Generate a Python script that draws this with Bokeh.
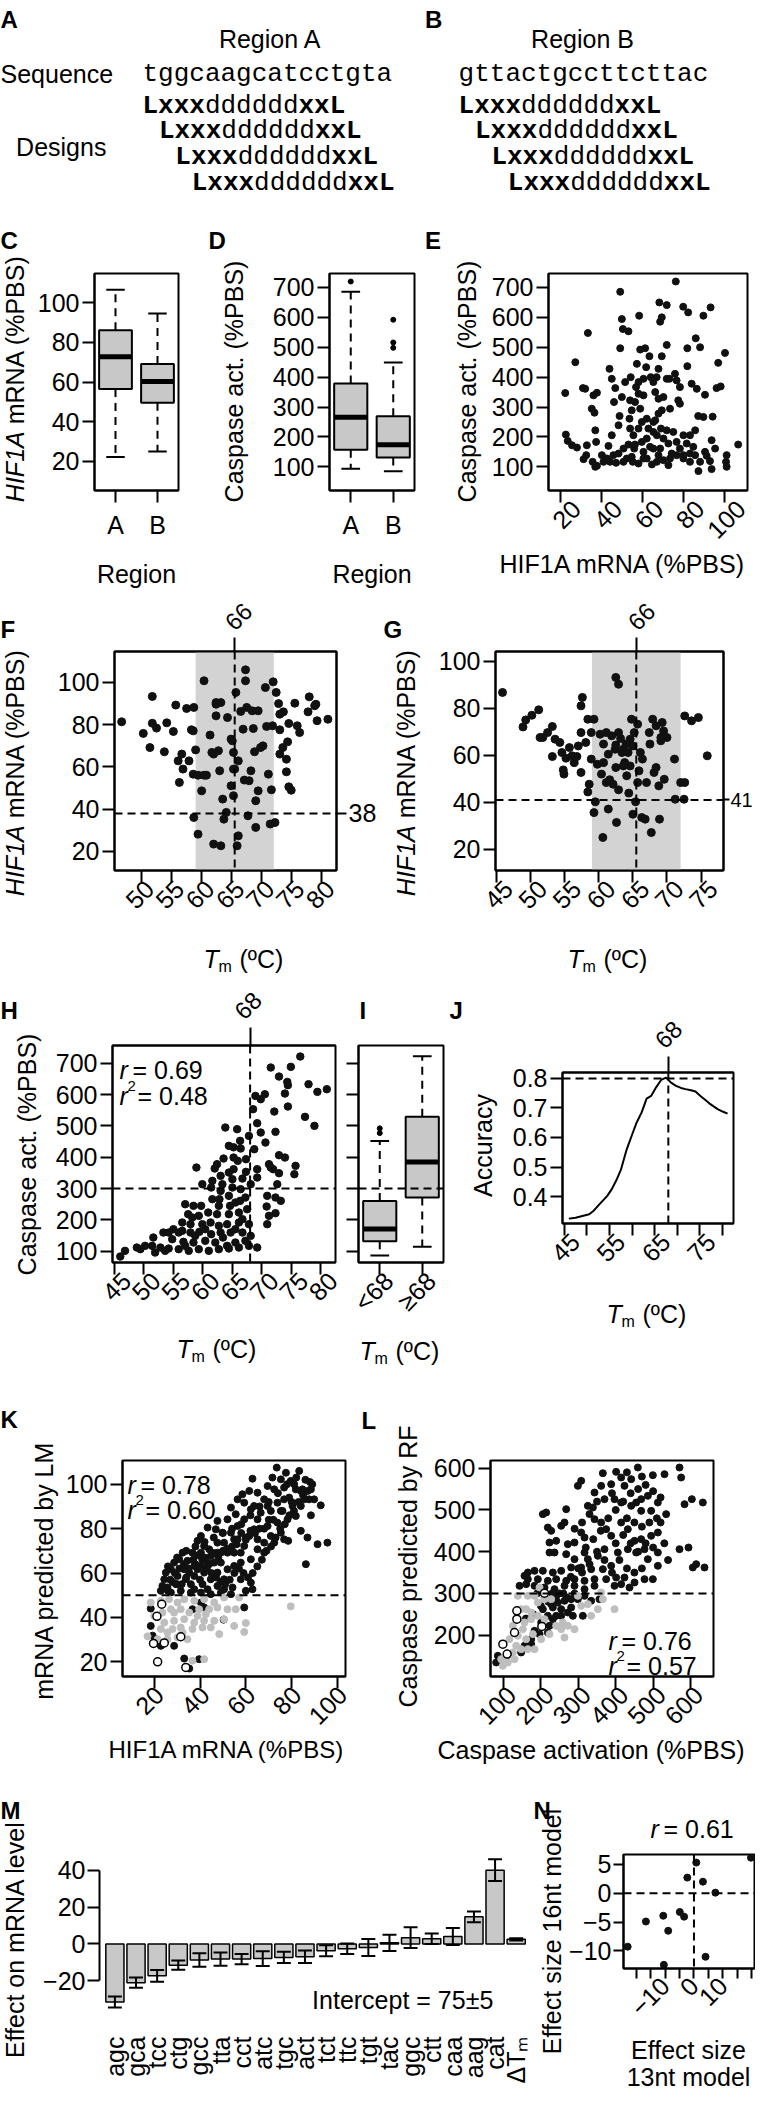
import math
from bokeh.plotting import figure
from bokeh.models import Range1d, FixedTicker, LinearAxis, Label, Span, BoxAnnotation, Title
from bokeh.layouts import column, row
from bokeh.core.properties import value
from bokeh.embed import file_html
from bokeh.resources import INLINE

SANS = "Liberation Sans"
MONO = "Liberation Mono"
FS = "25px"
BOXC = "#c8c8c8"
GRAYPT = "#bebebe"
BAND = "#d3d3d3"
PI = math.pi

# ---------------- data ----------------
seq_A = "tggcaagcatcctgta"
seq_B = "gttactgccttcttac"
design_parts = ["Lxxx", "dddddd", "xxL"]

region_cats = ["A", "B"]
C_q1 = [56.5, 49.6]; C_med = [72.7, 60.2]; C_q3 = [86.1, 69.0]
C_lo = [22.2, 25.0]; C_hi = [106.4, 94.5]; C_out = [[], []]
D_q1 = [156.9, 131.2]; D_med = [266.2, 173.6]; D_q3 = [378.8, 269.5]
D_lo = [93.3, 85.5]; D_hi = [685.5, 449.0]; D_out = [[720], [592, 516, 498]]

I_cats = ["<68", "≥68"]
I_q1 = [132, 271]; I_med = [171, 385]; I_q3 = [260, 529]
I_lo = [86, 114]; I_hi = [452, 722]; I_out = [[477, 492], []]

E_pts = [(22.4,346.7),(22.7,207.8),(23.6,186.7),(25.7,172),(28.1,164.4),(27.3,450),(31,363.3),(32.1,361),(33.4,547.8),(32.9,172),(32.6,139),(31.3,125.6),(35.7,116.7),(37.8,103.4),(35.3,294.4),(36.6,281),(36.1,339),(37.8,347.8),(37,222),(37.4,183.4),(40.2,139),(43.9,427.8),(45,394.4),(46.7,363.3),(43.4,170),(45,205.6),(45.8,139),(44.2,116.7),(47.1,113.4),(46.1,316.7),(49.1,685.6),(49.9,594.4),(50.4,561),(53.1,553.4),(49.1,496.7),(49.9,333.4),(48.8,270),(48.3,239),(51.5,383.4),(50.7,161),(52.3,127.8),(54.2,400),(54.7,289),(53.6,261),(53.9,228),(55.5,205.6),(55.9,161),(55.2,116.7),(58,111),(57.2,444.4),(58.3,605.6),(58.8,492.2),(61.2,496.7),(63.3,470),(60.4,394.4),(61.7,433.4),(56.8,366.7),(58,344.4),(56.3,316.7),(58.8,294.4),(60.4,339),(58,228),(59.6,183.4),(60.4,150),(62,127.8),(62.8,228),(63.9,400),(65.2,250),(66.8,400),(67.7,427.8),(68.1,650),(68.5,585.6),(69.3,600),(71.7,641),(69.3,470),(71.7,507.8),(66.1,350),(67.7,327.8),(69.3,289),(70.1,333.4),(71.7,394.4),(73,394.4),(66.1,255.6),(66.9,205.6),(68.9,228),(65.2,161),(67.7,139),(70.1,122.3),(72.5,178),(73.3,294.4),(71.7,222),(74.9,216.7),(75.7,411.1),(76.5,389),(78.1,366.7),(77.3,322.3),(78.1,311.1),(76.1,720),(79.7,635.6),(82.1,616.7),(89.5,605.6),(93,633.4),(81.7,496.7),(85.8,530),(87.9,500),(81.7,436.7),(83.8,378),(86.3,361),(90.3,341),(96.7,447.8),(100,481),(95.9,363.3),(97.9,369),(87,270),(89.5,266.7),(94,267.8),(85.5,222),(83,205.6),(79.8,205.6),(81.4,178),(78.1,161),(76.5,139),(79.8,127.8),(83,116.7),(85.5,139),(87.9,116.7),(87.1,85.6),(90.3,150),(92.7,119),(93.5,189),(95.2,161),(93.5,92.3),(100.8,139),(100.5,116.7),(100.8,100),(106.4,174.5),(74.1,144.5),(72.5,105.6),(66.9,116.7),(64.5,108),(48.3,144.5),(50.7,116.7),(42.6,127.8),(41,116.7),(37,100),(53.1,174.5),(56.3,174.5),(62,194.5),(63.6,166.7),(70.1,194.5),(76.5,183.4),(79.8,139),(84.6,166.7),(68.5,161),(60.4,127.8),(54.7,133.4),(73.3,127.8),(83,144.5),(91.1,136.7),(67.7,278),(65.2,216.7),(62,261),(59.6,250),(53.9,322.3),(58,383.4),(65.2,383.4)]

F_pts = [(46.7,81.4),(50.3,75.9),(51.4,69.2),(51.8,93.4),(51.8,80.7),(52.5,78.4),(53.8,67.2),(54.2,80.9),(55.3,76.8),(55.7,89.3),(56.1,62.9),(56.3,52.7),(56.7,66.1),(56.9,59),(57.5,87.7),(57.9,62.9),(58.3,77.6),(58.6,77.1),(58.7,88.2),(58.6,56.6),(59,68.1),(59.4,56.1),(58.7,36.1),(59.4,28.2),(60,48.7),(60.4,56.1),(60.4,100.8),(60.8,56.1),(61.4,75.1),(61.7,66.9),(62,66.1),(62,23.5),(62.4,84.2),(62.4,90.5),(62.8,67.7),(63,58.2),(63.2,22.7),(63.5,44.8),(63.2,90.5),(63.7,35.3),(64.1,38.5),(64.3,83.4),(64.9,73.2),(64.9,51.1),(65.1,72.4),(65.3,66.9),(65.3,59),(65.3,46.4),(65.5,59),(65.7,95.3),(65.9,22.7),(66.1,62.9),(66.1,27.4),(66.5,86.3),(66.9,77.9),(67.1,53.8),(67.3,106),(67.3,100.8),(67.5,88.2),(67.7,36.9),(67.9,53.5),(68.2,58.2),(68.4,86.6),(68.6,78.2),(68.8,67.2),(69,44),(69,31.4),(69.4,86.6),(69.4,48.7),(69.8,69.2),(70.2,70),(70.6,97.6),(70.8,79.2),(71.1,56.6),(71.4,33),(71.6,49.2),(71.8,79.5),(71.9,100.3),(72.2,33.7),(72.4,95.3),(72.8,90),(73,77.6),(73,66.1),(73.5,69.2),(74.1,63.7),(74.3,71.9),(74.1,57.7),(74.5,50.6),(74.9,49),(74.5,80.6),(75.5,90.2),(75.9,79.5),(76.3,76.3),(77.7,86.1),(77.9,93.2),(78.8,89),(79,89.7),(79.2,81.9),(81,82.6),(73.6,86.1),(73,85),(62.4,89.7)]

G_pts = [(45.9,86.8),(48.9,72.1),(49.3,75.1),(50.2,77.1),(51.2,79.4),(51.4,67.6),(51.8,67.6),(52.5,69.7),(53.2,72.3),(53.2,59.5),(53.6,66.9),(54.3,65.5),(54.6,61.2),(54.8,53.8),(54.9,52),(55.2,58.8),(55.7,63.3),(56.1,59.8),(56.4,56.9),(56.8,59.5),(57,64),(57.4,81.1),(57.6,84.7),(57.4,69.7),(57.4,52.7),(58.4,44.4),(58.1,65.5),(58.4,75.4),(58.6,47.7),(58.9,69.7),(58.9,58.4),(59.3,75.4),(59.3,35.6),(59.5,40.2),(59.8,56.2),(60.2,69),(60.4,52),(60.6,25),(60.7,64.8),(61.1,48.4),(61.4,37.1),(61.4,60.5),(61.6,49.6),(61.9,68.3),(62.1,47.7),(62.4,62.6),(62.5,93.2),(62.5,54.8),(62.9,90.3),(62.9,45.3),(62.6,31.4),(63.2,67.2),(63.4,61.2),(63.6,62.6),(63.8,56.9),(64.1,51.3),(64.3,61.2),(64.4,43.9),(64.6,66.9),(64.8,75.4),(65,64),(65,34.9),(65.2,69.7),(65.4,40.2),(65.7,73.3),(65.7,48.4),(65.9,53.4),(66.1,61.2),(66.3,33.5),(66.4,58.4),(66.8,32.8),(67,48.4),(67.4,69.7),(67.5,64.8),(67.7,27.1),(67.9,75.4),(68.1,52.7),(68.4,54.8),(68.4,72.6),(68.8,47),(68.9,32.8),(69.1,67.6),(69.3,74),(69.5,70.4),(69.6,49.8),(70,67.6),(69.1,66.2),(71.1,58.4),(71.2,41.3),(72,48.4),(72.5,41.3),(72.6,48.4),(72.6,76.8),(73.6,74.7),(74.6,76.1),(75.9,59.8),(64,64.8),(62.5,64.4),(61.1,69.7),(62.9,69.7),(63.6,55.5),(64.6,55.5),(60.7,56.9)]

H_pts = [(76.5,721.3),(71.5,686.2),(74.9,688.3),(72.9,657.4),(74.3,640.4),(74.4,629.8),(77.9,633),(79.4,608.5),(81,617),(73.9,603.2),(68.9,595.7),(69.8,585.1),(70.5,601),(68.5,553.2),(74.4,561.7),(72.1,545.7),(77.3,528.7),(78.9,500),(69.2,508.5),(69.8,478.7),(72.3,480.9),(63.8,494.7),(65.8,489.4),(67.8,468),(66.3,452.1),(70.6,446.8),(64.4,436.2),(66.4,427.7),(68.7,425.5),(63.5,395.7),(65.2,398.9),(65.9,388.3),(67.3,393.6),(72.9,406.4),(73.9,398.9),(71.2,377.7),(71.9,361.7),(71.5,367),(75.7,372.4),(75.5,345.7),(72.9,348.9),(58.9,367),(62,363.8),(63,340.4),(64.4,351),(65.2,361.7),(66.7,331.9),(69.2,361.7),(69.2,335.1),(68.1,313.8),(59.9,313.8),(61.4,303.2),(63.3,313.8),(65,303.2),(66.4,297.9),(64.4,276.6),(61.6,266),(62.7,244.7),(65.5,255.3),(67.2,271.3),(72.6,313.8),(72.3,271.3),(73.2,260.6),(70.8,242.6),(71.2,212.8),(72.3,221.3),(70.9,186.2),(57,250),(58.4,244.7),(57.5,218.1),(59.3,212.8),(60.9,223.4),(62.4,218.1),(64.4,218.1),(66.1,223.4),(67.5,234),(56.5,191.5),(57.9,186.2),(59.9,186.2),(61.3,191.5),(62.7,180.9),(64.1,186.2),(66.1,191.5),(67.8,186.2),(55.9,159.6),(57.9,159.6),(59.4,161.7),(61.4,154.3),(63,159.6),(64.7,159.6),(66.7,159.6),(68.1,148.9),(53.3,159.6),(51.6,143.6),(54.8,138.3),(56.7,129.8),(58.4,127.7),(60.4,133),(62.1,127.7),(64.1,117),(65.5,127.7),(67.2,133),(69.2,111.7),(50.2,117),(51.4,117),(52.8,111.7),(54.2,108.5),(55.9,106.4),(57.6,101.1),(59.3,106.4),(61,101.1),(62.7,106.4),(64.4,108.5),(66.1,111.7),(48.8,111.7),(49.4,106.4),(46.8,101.1),(46,83),(51.9,95.7),(53.6,101.1),(57,117),(58.7,148.9),(60.4,170.2),(56.5,165),(55,170.2),(59.7,244.7),(62.8,266),(61.6,324.5),(58.2,207.4),(64.6,244.7),(66.3,260.6),(63,292.5),(65,329.8),(62.4,377.7),(70.9,276.6),(67.3,353.2),(65.2,431.5),(66.7,202.1),(65.5,170.2),(63.4,143.6),(67.8,117),(54.2,159.6)]

J_tm = [46,47.5,49,50.5,51.5,52.8,54.5,55.5,56.5,57.5,58.8,59.9,61,62.1,63.2,64.2,65.3,66.4,67.5,68.6,69.7,70.8,71.8,73,74,75.1,76.2,77.3,78.9,80,81.1]
J_acc = [0.325,0.328,0.334,0.34,0.352,0.374,0.402,0.425,0.455,0.49,0.56,0.606,0.651,0.685,0.732,0.741,0.77,0.795,0.803,0.786,0.775,0.768,0.764,0.76,0.756,0.741,0.727,0.713,0.696,0.688,0.681]

K_black = [(73.5,107.5),(77.5,105.2),(83.3,106),(71.6,103),(75.3,102.2),(62.9,102.5),(79.6,101.5),(69.5,99.2),(72.4,97.7),(76.7,98.5),(81.1,100),(84.7,97.7),(87.6,93.2),(89.8,93.2),(92.7,90.5),(95.6,73.7),(91.3,73),(86.2,64),(86.9,76),(84,79),(88.4,86),(80.4,90.2),(81.8,85.7),(78.2,84.2),(75.3,78.2),(78.5,74.5),(73.8,82.7),(70.9,88),(68,93.2),(65.1,96.2),(61.5,97),(58.5,95.5),(59.3,91.7),(56.4,93.2),(53.5,89.5),(55.6,86.5),(52,84.2),(47.6,83.5),(46.9,79.7),(49.8,78.2),(43.3,80.5),(40.4,76.7),(38.9,74.5),(41.8,72.2),(44,70.7),(40.4,69.2),(36.7,69.2),(32.4,69.2),(30.9,66.2),(34.5,65.5),(28.7,64.7),(27.3,61.7),(25.1,60.2),(24.4,57.2),(23.6,54.2),(25.8,53.5),(29.5,55),(33.8,57.2),(37.5,58.7),(41.8,60.2),(44.7,57.2),(47.6,54.2),(50.5,52.7),(54.2,53.5),(57.8,57.2),(62.2,55.7),(62.9,52.7),(60,52),(52,69.2),(54.9,69.2),(59.3,72.2),(61.5,76.7),(63.6,79.7),(65.1,84.2),(66.5,87.2),(69.5,81.2),(70.9,76.7),(68,73.7),(65.1,70.7),(62.2,66.2),(57.8,64.7),(54.9,63.2),(52,61.7),(49.1,64.7),(46.2,64.7),(44.7,67.7),(47.6,73.7),(50.5,73.7),(53.5,78.2),(56.4,81.2),(59.3,84.2),(62.2,88.7),(54.9,75.2),(57.8,69.2),(49.1,69.2),(37.5,63.2),(40.4,63.2),(33.1,61.7),(35.3,60.2),(30.2,58.7),(47.6,60.2),(50.5,57.2),(43.3,52.7),(37.5,52.7),(41.1,55),(38.9,61.7),(63.6,90.2),(69.5,90.2),(73.8,91.7),(76.7,93.2),(75.3,88),(78.9,94),(84,90.2),(85.5,93.2),(81.8,97.7),(88.4,97.7),(65.1,75.2),(68,69.2),(72.4,73.7),(76.7,75.2),(60,76),(56.4,75.2),(47.6,69.2),(43.3,64.7),(22.9,52),(27.3,51.2),(31.6,52),(36,51.2),(40.4,51.2),(44.7,50.5),(49.1,51.2),(53.5,50.5),(59.3,44.5),(50.3,39),(41.8,44.5),(40.4,46.7),(36.7,43.7),(18.5,44),(18.5,36.2),(19.3,31.8),(22.9,27.2),(28.7,27.2),(33.1,21.5),(35.3,17),(39.6,21.2),(27,57),(29,60),(31,62),(33,64),(35,62),(37,66),(39,68),(41,66),(43,62),(45,60),(47,58),(49,56),(51,55),(53,57),(55,60),(57,62),(59,60),(61,58),(63,60),(65,63),(67,66),(69,70),(71,72),(73,76),(75,80),(77,82),(79,86),(81,88),(83,92),(85,95),(87,97),(89,100),(86,102),(82,103),(78,100),(74,96),(70,92),(66,90),(62,86),(58,82),(54,80),(50,78),(46,76),(42,74),(38,72),(34,70),(30,67),(26,63),(28,56),(32,55),(36,55),(40,57),(44,64),(48,67),(52,71),(56,73),(60,75),(64,78),(68,80),(72,84),(76,88),(80,92),(84,97),(88,101),(70,84),(66,80),(62,79),(58,78),(54,72),(50,70),(46,69),(42,67),(38,64),(34,58),(30,55),(26,52)]
K_gray = [(18.5,46.7),(22.9,47.5),(26.5,48.2),(30.2,46.7),(33.1,48.2),(37.5,47.5),(41.8,48.2),(46.2,46.7),(50.5,49),(57.1,49),(79.6,45),(20,40.7),(23.6,42.2),(27.3,43.7),(31.6,43.7),(35.3,42.2),(39.6,43.7),(44,43.7),(47.6,44.5),(52,43.7),(55.6,43.7),(24.4,37.7),(28.7,38.5),(33.1,39.2),(37.5,37.7),(41.8,38.5),(46.2,38.5),(50.5,39.2),(54.9,36.2),(60,37.5),(59.3,33.5),(48.4,32.5),(44.7,35.5),(41.1,35.5),(36.7,34.8),(32.4,33.2),(28,34.8),(22.9,34.8),(17.1,31.5),(21.5,30.2),(25.8,30.2),(30.2,31),(34.5,30.2),(41.8,21.2),(36.7,20.5),(25.8,33.2),(28.7,42.2),(38.9,40.7),(42.5,41.5),(31.6,35.5)]
K_open = [(23.3,46),(21.2,40.5),(19.7,28.3),(24.4,28.5),(31.6,31.3),(21.5,20),(33.8,17.5)]

L_black = [(459.2,601.6),(499.3,583.2),(530.5,585.6),(570.6,601.6),(575,577.7),(365.6,588),(401.2,591.2),(414.6,577.7),(441.4,573.7),(387.9,561.7),(423.5,557.7),(361.1,557.7),(343.3,541.7),(307.7,569.7),(298.8,557.7),(454.7,517.8),(468.1,525.8),(485.9,533.8),(512.7,517.8),(584,513.8),(603.6,525.8),(633,517.8),(534.9,489.9),(494.8,497.8),(468.1,497.8),(441.4,509.8),(414.6,517.8),(396.8,525.8),(370,525.8),(325.5,509.8),(338.9,505.8),(267.6,501.8),(214.1,493.9),(205.2,489.9),(263.1,469.9),(254.2,461.9),(218.5,457.9),(227.5,450),(343.3,477.9),(361.1,469.9),(374.5,453.9),(414.6,469.9),(432.4,453.9),(387.9,438),(450.3,426),(468.1,430),(494.8,438),(512.7,446),(307.7,446),(316.6,434),(289.8,422),(272,418),(240.8,426),(223,422),(223,398),(236.4,398),(316.6,398),(267.6,394.1),(289.8,382.1),(325.5,382.1),(352.2,390.1),(370,406),(405.7,398),(432.4,406),(454.7,398),(477,406),(512.7,398),(485.9,382.1),(512.7,366.2),(570.6,406),(594.7,410),(606.2,362.2),(637.4,362.2),(615.2,370.1),(365.6,358.2),(387.9,366.2),(334.4,358.2),(307.7,362.2),(280.9,362.2),(254.2,354.2),(231.9,350.2),(205.2,354.2),(182.9,354.2),(165.1,350.2),(156.1,342.2),(165.1,334.2),(191.8,334.2),(218.5,330.3),(240.8,334.2),(267.6,330.3),(289.8,334.2),(316.6,330.3),(343.3,334.2),(374.5,334.2),(401.2,338.2),(423.5,338.2),(450.3,326.3),(477,334.2),(499.3,334.2),(436.9,314.3),(414.6,322.3),(396.8,318.3),(343.3,318.3),(316.6,310.3),(289.8,318.3),(263.1,318.3),(236.4,310.3),(209.6,314.3),(182.9,318.3),(160.6,322.3),(142.8,318.3),(316.6,294.3),(298.8,286.4),(280.9,286.4),(263.1,282.4),(245.3,278.4),(227.5,274.4),(254.2,262.4),(280.9,266.4),(272,254.4),(254.2,246.4),(240.8,246.4),(231.9,238.5),(223,222.5),(218.5,206.5),(196.3,202.6),(182.9,210.5),(174,190.6),(174,178.6),(156.1,174.6),(147.2,158.7),(312.1,246.4),(285.4,246.4),(200.7,230.5),(218.5,246.4),(356.7,286.4),(334.4,282.4),(231.9,266.4),(205.2,262.4),(165.1,178.6),(84.8,150.7),(80.4,134.7),(430,480),(450,470),(470,460),(490,470),(510,480),(460,550),(480,560),(500,545),(520,530),(440,540),(420,520),(400,500),(380,480),(360,450),(340,430),(320,410),(300,360),(280,340),(260,300),(240,290),(220,280),(200,270),(180,250),(160,240),(400,420),(420,440),(440,420),(460,400),(480,420),(500,410),(530,420),(540,380),(520,470),(470,580),(430,590),(390,540),(350,520),(330,490),(310,470),(290,455),(450,350),(470,360),(430,360),(410,380),(390,350),(370,380),(350,400),(330,370),(310,350),(290,300),(270,290),(250,300),(230,300),(210,290),(190,300)]
L_gray = [(138.3,294.3),(165.1,294.3),(191.8,278.4),(209.6,286.4),(147.2,262.4),(160.6,262.4),(174,254.4),(138.3,238.5),(156.1,230.5),(174,238.5),(191.8,246.4),(151.7,214.5),(138.3,198.6),(160.6,190.6),(178.4,202.6),(133.9,174.6),(147.2,166.6),(165.1,166.6),(125,158.7),(107.1,146.7),(111.6,134.7),(93.8,142.7),(98.2,126.7),(129.4,142.7),(182.9,166.6),(200.7,190.6),(223,202.6),(240.8,222.5),(263.1,194.6),(258.6,230.5),(272,222.5),(307.7,270.4),(325.5,274.4),(334.4,246.4),(352.2,262.4),(361.1,302.3),(365.6,286.4),(396.8,262.4),(254.2,214.5),(227.5,286.4),(209.6,238.5),(125,222.5),(116,190.6),(182.9,294.3),(196.3,314.3),(298.8,294.3),(289.8,214.5)]
L_open = [(209.6,300.7),(135.7,258.4),(135.7,238.5),(129.4,206.5),(202.5,220.9),(98.2,178.6),(109.8,154.7)]

M_cats = ["agc","gca","tcc","ctg","gcc","tta","cct","atc","tgc","act","tct","ttc","tgt","tac","ggc","ctt","caa","aag","cat","ΔTₘ"]
M_vals = [-31.5,-21,-17.3,-11.5,-8.7,-8.2,-8.2,-7.9,-7.3,-6.9,-3.7,-2.6,-1.9,0.6,3.4,2.8,4,14.7,40,2.5]
M_err = [3,2.8,3.2,2.5,3.6,3.6,2.8,4,3,3.4,3,2.8,4.6,4.4,5.6,2.8,4.6,2.9,5.9,0.6]

N_pts = [(-22.9,-9.25),(-16.6,-4.9),(-10.6,-3.9),(-10.4,-12.4),(-8.9,-6.5),(-4.9,-3.25),(-3.4,-4.06),(-2.3,2.7),(0.8,5.3),(3.1,2.0),(4.0,-11.0),(7.4,0.1),(19.7,6.15)]


# ---------------- helpers ----------------
def no_align(p):
    if "frame_align" in p.properties():
        p.frame_align = False


class Panel:
    def __init__(self, box, frame, xr, yr, outline=True):
        X0, Y0, X1, Y1 = box
        L, T, R_, B = frame
        self.L, self.T, self.R, self.B = L, T, R_, B
        self.xr, self.yr = xr, yr
        p = figure(width=X1 - X0, height=Y1 - Y0,
                   x_range=Range1d(*xr), y_range=Range1d(*yr),
                   min_border_left=L - X0, min_border_right=X1 - R_,
                   min_border_top=T - Y0, min_border_bottom=Y1 - B,
                   output_backend="svg", toolbar_location=None)
        no_align(p)
        p.grid.visible = False
        p.outline_line_color = "black" if outline else None
        p.outline_line_width = 2
        p.background_fill_color = "white"
        p.border_fill_color = "white"
        self.p = p

    def dx(self, X):
        return self.xr[0] + (X - self.L) / (self.R - self.L) * (self.xr[1] - self.xr[0])

    def dy(self, Y):
        return self.yr[1] - (Y - self.T) / (self.B - self.T) * (self.yr[1] - self.yr[0])


def tfig(x0, y0, x1, y1, match=None):
    """Text-only figure whose data coordinates are page pixels.
    With match=Panel, its frame spans the same columns as that panel's frame."""
    fl, fr = (x0, x1) if match is None else (match.L, match.R)
    p = figure(width=x1 - x0, height=y1 - y0, x_range=Range1d(fl, fr), y_range=Range1d(y1, y0),
               min_border_left=fl - x0, min_border_right=x1 - fr,
               min_border_top=0, min_border_bottom=0,
               x_axis_location=None, y_axis_location=None,
               output_backend="svg", toolbar_location=None)
    no_align(p)
    p.grid.visible = False
    p.outline_line_color = None
    p.background_fill_color = "white"
    p.border_fill_color = "white"
    return p


def gt(p, X, Y, text, size=FS, style="normal", align="left", baseline="alphabetic",
       angle=0.0, font=SANS):
    p.text(x=[X], y=[Y], text=[text], text_font=value(font), text_font_size=size,
           text_font_style=style, text_align=align, text_baseline=baseline,
           angle=angle, text_color="black")


def lab(P, X, Y, text, size=FS, style="normal", align="left", baseline="alphabetic"):
    P.p.add_layout(Label(x=P.dx(X), y=P.dy(Y), text=text, text_font=SANS, text_font_size=size,
                         text_font_style=style, text_align=align, text_baseline=baseline,
                         text_color="black"))


def spacer_axis(P, px):
    """Blank axis used only to push the x-axis title further down."""
    ax = LinearAxis(ticker=FixedTicker(ticks=[]))
    ax.axis_line_color = None
    ax.major_tick_line_color = None
    ax.minor_tick_line_color = None
    ax.major_tick_out = px
    ax.major_tick_in = 0
    ax.major_label_standoff = 0
    P.p.add_layout(ax, "below")


def bottom_title(P, x_left, text, gap, size=FS):
    spacer_axis(P, gap)
    P.p.add_layout(Title(text=text, align="left", offset=x_left - P.L, standoff=0,
                         vertical_align="top", text_font=SANS, text_font_size=size,
                         text_font_style="normal", text_color="black"), "below")


def letter(p, X, Y, t):
    gt(p, X, Y, t, size="24px", style="bold")


def common(ax):
    ax.axis_line_color = "black"
    ax.axis_line_width = 2
    ax.major_tick_line_color = "black"
    ax.major_tick_line_width = 2
    ax.major_tick_in = 0
    ax.minor_tick_line_color = None
    ax.major_label_text_font = SANS
    ax.major_label_text_color = "black"
    ax.axis_label = None


def style_axis(ax, ticks, overrides=None, orient="horizontal", tick_out=12, standoff=3, size=FS):
    ax.ticker = FixedTicker(ticks=ticks)
    common(ax)
    ax.major_tick_out = tick_out
    ax.major_label_standoff = standoff
    ax.major_label_text_font_size = size
    ax.major_label_orientation = orient
    if overrides:
        ax.major_label_overrides = overrides


def axis_title(ax, text, standoff):
    ax.axis_label = text
    ax.axis_label_text_font = SANS
    ax.axis_label_text_font_size = FS
    ax.axis_label_text_font_style = "normal"
    ax.axis_label_text_color = "black"
    ax.axis_label_standoff = standoff


def ticks_only(ax, ticks, tick_out):
    style_axis(ax, ticks, {t: "" for t in ticks}, tick_out=tick_out, standoff=0, size="1px")


def extra_ticks(P, side, ticks, tick_out):
    ax = LinearAxis()
    ticks_only(ax, ticks, tick_out)
    P.p.add_layout(ax, side)


def rot_xaxis(P, ticks, labels=None, shift_px=0, standoff=2):
    """Ticks on the true scale; 45-degree labels on a copy of the scale shifted right."""
    ticks_only(P.p.xaxis[0], ticks, 12)
    s = shift_px * (P.xr[1] - P.xr[0]) / (P.R - P.L)
    P.p.extra_x_ranges = {"lab": Range1d(P.xr[0] - s, P.xr[1] - s)}
    ax2 = LinearAxis(x_range_name="lab")
    style_axis(ax2, ticks, labels, orient=PI / 4, tick_out=0, standoff=standoff)
    ax2.axis_line_color = None
    ax2.major_tick_line_color = None
    P.p.add_layout(ax2, "below")


def dashed(P, loc, dim):
    P.p.add_layout(Span(location=loc, dimension=dim, line_color="black",
                        line_width=2, line_dash="8 5"))


def hif_text(p, cx, cy, rotated):
    s = 25.0
    w1 = 2.834 * s
    ws = 0.278 * s
    w2 = 6.778 * s
    W = w1 + ws + w2
    if rotated:
        y0 = cy + W / 2
        gt(p, cx, y0, "HIF1A", style="italic", angle=PI / 2, baseline="middle")
        gt(p, cx, y0 - w1 - ws, "mRNA (%PBS)", angle=PI / 2, baseline="middle")
    else:
        x0 = cx - W / 2
        gt(p, x0, cy, "HIF1A", style="italic")
        gt(p, x0 + w1 + ws, cy, "mRNA (%PBS)")


def yl(p, cx, cy, text):
    gt(p, cx, cy, text, angle=PI / 2, align="center", baseline="middle")


def tm_text(p, x, yb):
    gt(p, x, yb, "T", style="italic")
    gt(p, x + 15, yb + 8, "m", size="16px")
    gt(p, x + 36, yb, "(ºC)")


def rot_num(p, cx, cy, t):
    gt(p, cx, cy, t, size="24px", angle=PI / 4, align="center", baseline="middle")


def r_label(P, x, yb, val, sq=False):
    lab(P, x, yb, "r", style="italic")
    if sq:
        lab(P, x + 8, yb - 10, "2", size="15px")
        lab(P, x + 18, yb, "= " + val)
    else:
        lab(P, x + 13, yb, "= " + val)


def boxplot(p, pos, q1, med, q3, lo, hi, outl, w=0.39, cap=0.22):
    p.segment(x0=[pos, pos], x1=[pos, pos], y0=[q3, q1], y1=[hi, lo],
              line_color="black", line_width=2, line_dash="8 6")
    p.segment(x0=[pos - cap] * 2, x1=[pos + cap] * 2, y0=[hi, lo], y1=[hi, lo],
              line_color="black", line_width=2)
    p.quad(left=[pos - w], right=[pos + w], bottom=[q1], top=[q3],
           fill_color=BOXC, line_color="black", line_width=2)
    p.segment(x0=[pos - w], x1=[pos + w], y0=[med], y1=[med], line_color="black", line_width=5)
    if outl:
        p.scatter(x=[pos] * len(outl), y=outl, size=5, color="black")


def scat(P, pts, size=7, color="#111111", line=None):
    xs = [a for a, b in pts]
    ys = [b for a, b in pts]
    if line is None:
        P.p.scatter(x=xs, y=ys, size=size, fill_color=color, line_color=color)
    else:
        P.p.scatter(x=xs, y=ys, size=size, fill_color=color, line_color=line, line_width=1.5)


def R(*children):
    r = row(*children)
    if "spacing" in r.properties():
        r.spacing = 0
    return r


def Cl(*children):
    c = column(*children)
    if "spacing" in c.properties():
        c.spacing = 0
    return c


# ================= band 1: A / B =================
AB = tfig(8, 8, 763, 215)
letter(AB, 8, 27, "A")
letter(AB, 432.6, 27, "B")
gt(AB, 277.8, 46, "Region A", align="center")
gt(AB, 590, 46, "Region B", align="center")
gt(AB, 8, 81, "Sequence")
gt(AB, 23.6, 154.3, "Designs")
CW = 15.6
for x0, seq in [(150, seq_A), (466.1, seq_B)]:
    gt(AB, x0, 81.7, seq, size="26px", font=MONO)
    for k, yb in enumerate([113.3, 138.3, 164.0, 190.0]):
        xs = x0 + k * 16.4
        gt(AB, xs, yb, design_parts[0], size="26px", font=MONO, style="bold")
        gt(AB, xs + 4 * CW, yb, design_parts[1], size="26px", font=MONO)
        gt(AB, xs + 10 * CW, yb, design_parts[2], size="26px", font=MONO, style="bold")

# ================= band 2: C D E =================
leftC = tfig(8, 215, 40, 600)
letter(leftC, 8, 248.3, "C")
hif_text(leftC, 22, 386, True)
C = Panel((40, 215, 205, 600), (102, 281, 186, 498), (0.5, 2.5), (5.4, 114.6))
for i in range(2):
    boxplot(C.p, i + 1, C_q1[i], C_med[i], C_q3[i], C_lo[i], C_hi[i], C_out[i])
style_axis(C.p.yaxis[0], [20, 40, 60, 80, 100])
style_axis(C.p.xaxis[0], [1, 2], {1: region_cats[0], 2: region_cats[1]}, standoff=8)
axis_title(C.p.xaxis[0], "Region", 18)

leftD = tfig(205, 215, 262, 600)
letter(leftD, 216, 248.3, "D")
yl(leftD, 241, 389, "Caspase act. (%PBS)")
D = Panel((262, 215, 430, 600), (337, 281, 422, 498), (0.5, 2.5), (20.7, 746.8))
for i in range(2):
    boxplot(D.p, i + 1, D_q1[i], D_med[i], D_q3[i], D_lo[i], D_hi[i], D_out[i])
style_axis(D.p.yaxis[0], [100, 200, 300, 400, 500, 600, 700])
style_axis(D.p.xaxis[0], [1, 2], {1: region_cats[0], 2: region_cats[1]}, standoff=8)
axis_title(D.p.xaxis[0], "Region", 18)

leftE = tfig(430, 215, 495, 600)
letter(leftE, 432.6, 248.3, "E")
yl(leftE, 474.6, 389, "Caspase act. (%PBS)")
E = Panel((495, 215, 763, 600), (556, 281, 755, 498), (14.27, 110.93), (20.7, 746.8))
scat(E, E_pts, size=7)
style_axis(E.p.yaxis[0], [100, 200, 300, 400, 500, 600, 700])
rot_xaxis(E, [20, 40, 60, 80, 100], shift_px=16)
bottom_title(E, 507, "HIF1A mRNA (%PBS)", 19)

band2 = R(leftC, C.p, leftD, D.p, leftE, E.p)

# ================= band 3: F G =================
leftF = tfig(8, 600, 45, 985)
letter(leftF, 8, 637, "F")
hif_text(leftF, 22, 780, True)
F = Panel((45, 643, 390, 945), (122, 659, 344, 878), (45.51, 82.43), (11.0, 114.67))
topF = tfig(45, 600, 390, 643, match=F)
rot_num(topF, 246, 624, "66")
F.p.add_layout(BoxAnnotation(left=59, right=72, fill_color=BAND, fill_alpha=1.0,
                             line_alpha=0, level="underlay"))
scat(F, F_pts, size=8)
dashed(F, 65.5, "height")
dashed(F, 38, "width")
style_axis(F.p.yaxis[0], [20, 40, 60, 80, 100])
rot_xaxis(F, [50, 55, 60, 65, 70, 75, 80], shift_px=8)
extra_ticks(F, "above", [65.5], 14)
axr = LinearAxis()
style_axis(axr, [38], tick_out=10, standoff=2)
F.p.add_layout(axr, "right")
botF = tfig(45, 945, 390, 985, match=F)
tm_text(botF, 211, 966)

leftG = tfig(390, 600, 432, 985)
letter(leftG, 391, 637, "G")
hif_text(leftG, 413, 780, True)
G = Panel((432, 643, 763, 945), (503, 659, 733, 878), (44.87, 78.28), (10.92, 104.26))
topG = tfig(432, 600, 763, 643, match=G)
rot_num(topG, 649, 624, "66")
G.p.add_layout(BoxAnnotation(left=59, right=72, fill_color=BAND, fill_alpha=1.0,
                             line_alpha=0, level="underlay"))
scat(G, G_pts, size=8)
dashed(G, 65.5, "height")
dashed(G, 41, "width")
style_axis(G.p.yaxis[0], [20, 40, 60, 80, 100])
rot_xaxis(G, [45, 50, 55, 60, 65, 70, 75], shift_px=12)
extra_ticks(G, "above", [65.5], 14)
axr2 = LinearAxis()
style_axis(axr2, [41], tick_out=6, standoff=1, size="20px")
G.p.add_layout(axr2, "right")
botG = tfig(432, 945, 763, 985, match=G)
tm_text(botG, 575, 966)

band3 = R(leftF, Cl(topF, F.p, botF), leftG, Cl(topG, G.p, botG))

# ================= band 4: H I J =================
leftH = tfig(8, 985, 55, 1380)
letter(leftH, 8, 1018, "H")
yl(leftH, 34.4, 1162, "Caspase act. (%PBS)")
H = Panel((55, 1032, 352, 1330), (120, 1053, 343, 1270), (44.68, 82.47), (63.9, 756.5))
topH = tfig(55, 985, 352, 1032, match=H)
rot_num(topH, 255.5, 1013, "68")
scat(H, H_pts, size=7.5)
dashed(H, 68, "height")
dashed(H, 300, "width")
style_axis(H.p.yaxis[0], [100, 200, 300, 400, 500, 600, 700])
rot_xaxis(H, [45, 50, 55, 60, 65, 70, 75, 80], shift_px=12)
extra_ticks(H, "above", [68], 18)
r_label(H, 127, 1077, "0.69")
r_label(H, 127, 1103, "0.48", sq=True)
botH = tfig(55, 1330, 352, 1380, match=H)
tm_text(botH, 184, 1356)

I = Panel((352, 1032, 455, 1338), (366, 1053, 451, 1270), (0.5, 2.5), (63.9, 756.5))
topI = tfig(352, 985, 455, 1032, match=I)
letter(topI, 367, 1018, "I")
dashed(I, 300, "width")
for i in range(2):
    boxplot(I.p, i + 1, I_q1[i], I_med[i], I_q3[i], I_lo[i], I_hi[i], I_out[i])
ticks_only(I.p.yaxis[0], [100, 200, 300, 400, 500, 600, 700], 12)
rot_xaxis(I, [1, 2], {1: I_cats[0], 2: I_cats[1]}, shift_px=9)
botI = tfig(352, 1338, 455, 1380, match=I)
tm_text(botI, 367, 1358)

leftJ = tfig(455, 985, 515, 1380)
letter(leftJ, 457, 1018, "J")
yl(leftJ, 490, 1153, "Accuracy")
J = Panel((515, 1060, 763, 1290), (570, 1080, 741, 1231), (44.6, 82.41), (0.3085, 0.8203))
topJ = tfig(515, 985, 763, 1060, match=J)
rot_num(topJ, 676, 1042, "68")
J.p.line(x=J_tm, y=J_acc, line_color="black", line_width=2)
dashed(J, 68, "height")
dashed(J, 0.8, "width")
style_axis(J.p.yaxis[0], [0.4, 0.5, 0.6, 0.7, 0.8])
rot_xaxis(J, [45, 50, 55, 60, 65, 70, 75, 80],
          {45: "45", 50: "", 55: "55", 60: "", 65: "65", 70: "", 75: "75", 80: ""}, shift_px=11)
extra_ticks(J, "above", [68], 16)
botJ = tfig(515, 1290, 763, 1380, match=J)
tm_text(botJ, 614, 1321)

band4 = R(leftH, Cl(topH, H.p, botH), Cl(topI, I.p, botI), leftJ, Cl(topJ, J.p, botJ))

# ================= band 5: K L =================
leftK = tfig(8, 1380, 70, 1790)
letter(leftK, 8, 1427, "K")
yl(leftK, 51.6, 1578, "mRNA predicted by LM")
K = Panel((70, 1380, 365, 1790), (130, 1468, 353, 1684), (6.17, 103.5), (13.4, 110.7))
scat(K, K_black, size=7)
scat(K, K_gray, size=7, color=GRAYPT)
scat(K, K_open, size=8, color="white", line="black")
dashed(K, 50, "width")
style_axis(K.p.yaxis[0], [20, 40, 60, 80, 100])
rot_xaxis(K, [20, 40, 60, 80, 100], shift_px=5)
r_label(K, 135, 1492, "0.78")
r_label(K, 135, 1517, "0.60", sq=True)
bottom_title(K, 116, "HIF1A mRNA (%PBS)", 22, size="24px")

leftL = tfig(365, 1380, 435, 1790)
letter(leftL, 369, 1428, "L")
yl(leftL, 415.5, 1574, "Caspase predicted by RF")
Lp = Panel((435, 1380, 763, 1790), (498, 1468, 721, 1684), (65.2, 661.5), (101.1, 618.4))
scat(Lp, L_black, size=7)
scat(Lp, L_gray, size=7, color=GRAYPT)
scat(Lp, L_open, size=8, color="white", line="black")
dashed(Lp, 300, "width")
style_axis(Lp.p.yaxis[0], [200, 300, 400, 500, 600])
rot_xaxis(Lp, [100, 200, 300, 400, 500, 600], shift_px=8)
r_label(Lp, 616, 1648, "0.76")
r_label(Lp, 616, 1673, "0.57", sq=True)
bottom_title(Lp, 445, "Caspase activation (%PBS)", 22)

band5 = R(leftK, K.p, leftL, Lp.p)

# ================= band 6: M N =================
leftM = tfig(8, 1790, 40, 2094)
letter(leftM, 8, 1818, "M")
yl(leftM, 22, 1947, "Effect on mRNA level")
M = Panel((40, 1790, 540, 2094), (107, 1850, 537, 2045), (-0.729, 19.63), (-39.34, 55.0), outline=False)
idx = list(range(len(M_cats)))
M.p.vbar(x=idx, width=0.86, top=M_vals, bottom=0, fill_color=BOXC, line_color="black", line_width=1.5)
lo = [v - e for v, e in zip(M_vals, M_err)]
hi = [v + e for v, e in zip(M_vals, M_err)]
M.p.segment(x0=idx, x1=idx, y0=lo, y1=hi, line_color="black", line_width=2)
M.p.segment(x0=[i - 0.33 for i in idx], x1=[i + 0.33 for i in idx], y0=lo, y1=lo, line_color="black", line_width=2)
M.p.segment(x0=[i - 0.33 for i in idx], x1=[i + 0.33 for i in idx], y0=hi, y1=hi, line_color="black", line_width=2)
style_axis(M.p.yaxis[0], [-20, 0, 20, 40], {-20: "−20"}, standoff=2)
M.p.yaxis[0].bounds = (-20, 40)
style_axis(M.p.xaxis[0], idx, {i: c for i, c in zip(idx, M_cats)}, orient=PI / 2, standoff=8)
M.p.xaxis[0].axis_line_color = None
M.p.xaxis[0].major_tick_line_color = None
lab(M, 319.6, 2027, "Intercept = 75±5")

leftN = tfig(540, 1790, 574, 2094)
letter(leftN, 541, 1818, "N")
yl(leftN, 559, 1939, "Effect size 16nt model")
N = Panel((574, 1850, 763, 2042), (630, 1862, 762, 1976), (-24.34, 20.91), (-13.03, 6.70))
topN = tfig(574, 1790, 763, 1850, match=N)
gt(topN, 658, 1836, "r", style="italic")
gt(topN, 671, 1836, "= 0.61")
dashed(N, 0, "height")
dashed(N, 0, "width")
scat(N, N_pts, size=7)
style_axis(N.p.yaxis[0], [-10, -5, 0, 5], {-10: "−10", -5: "−5"}, tick_out=10, standoff=2)
style_axis(N.p.xaxis[0], [-20, -15, -10, -5, 0, 5, 10, 15, 20],
           {-20: "", -15: "", -10: "−10", -5: "", 0: "0", 5: "", 10: "10", 15: "", 20: ""},
           orient=PI / 4, tick_out=10, standoff=3)
botN = tfig(574, 2042, 763, 2094, match=N)
gt(botN, 696, 2057, "Effect size", align="center")
gt(botN, 696, 2084, "13nt model", align="center")

band6 = R(leftM, M.p, leftN, Cl(topN, N.p, botN))

layout = Cl(AB, band2, band3, band4, band5, band6)

open("out.html", "w").write(file_html(layout, INLINE))
